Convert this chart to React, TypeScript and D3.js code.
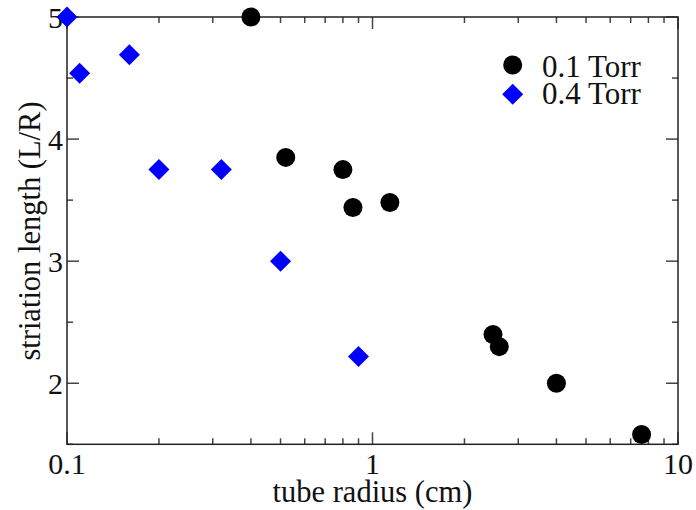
import React from "react";
import * as d3 from "d3";

const torr01X = [0.4, 0.52, 0.8, 0.863, 1.14, 2.48, 2.6, 4.0, 7.6];
const torr01Y = [5.0, 3.85, 3.75, 3.44, 3.48, 2.4, 2.3, 2.0, 1.58];
const torr04X = [0.1, 0.11, 0.16, 0.2, 0.32, 0.5, 0.9];
const torr04Y = [5.0, 4.54, 4.69, 3.75, 3.75, 3.0, 2.22];
const xTickLabels = [0.1, 1, 10];
const yTickLabels = [2, 3, 4, 5];
const legendLabels = ["0.1 Torr", "0.4 Torr"];

const W = 696, H = 510;
const L = 67, R = 678, T = 17, B = 444.3;
const FONT = "'Liberation Serif', 'Times New Roman', serif";

export default function App() {
  const x = d3.scaleLog().domain([0.1, 10]).range([L, R]);
  const y = d3.scaleLinear().domain([1.5, 5]).range([B, T]);

  const xMinor: number[] = [];
  [0.1, 1].forEach((d) => {
    for (let k = 2; k <= 9; k++) xMinor.push(d * k);
  });
  const yMinor = d3.range(1.5, 5.01, 0.5).filter((v) => Math.abs(v - Math.round(v)) > 0.01);
  const tickColor = "#444";
  const majLen = 12, minLen = 6;
  const dia = (cx: number, cy: number, r: number) =>
    `M${cx},${cy - r}L${cx + r},${cy}L${cx},${cy + r}L${cx - r},${cy}Z`;

  return (
    <svg width={W} height={H} style={{ position: "absolute", left: 0, top: 0, background: "#fff" }}>
      <rect x={0} y={0} width={W} height={H} fill="#fff" />
      {xTickLabels.map((v) => (
        <g key={"xm" + v}>
          <line x1={x(v)} x2={x(v)} y1={B} y2={B - majLen} stroke={tickColor} strokeWidth={1.5} />
          <line x1={x(v)} x2={x(v)} y1={T} y2={T + majLen} stroke={tickColor} strokeWidth={1.5} />
        </g>
      ))}
      {xMinor.map((v) => (
        <g key={"xn" + v}>
          <line x1={x(v)} x2={x(v)} y1={B} y2={B - minLen} stroke={tickColor} strokeWidth={1.5} />
          <line x1={x(v)} x2={x(v)} y1={T} y2={T + minLen} stroke={tickColor} strokeWidth={1.5} />
        </g>
      ))}
      {yTickLabels.map((v) => (
        <g key={"ym" + v}>
          <line x1={L} x2={L + majLen} y1={y(v)} y2={y(v)} stroke={tickColor} strokeWidth={1.5} />
          <line x1={R} x2={R - majLen} y1={y(v)} y2={y(v)} stroke={tickColor} strokeWidth={1.5} />
        </g>
      ))}
      {yMinor.map((v) => (
        <g key={"yn" + v}>
          <line x1={L} x2={L + minLen} y1={y(v)} y2={y(v)} stroke={tickColor} strokeWidth={1.5} />
          <line x1={R} x2={R - minLen} y1={y(v)} y2={y(v)} stroke={tickColor} strokeWidth={1.5} />
        </g>
      ))}
      <rect x={L} y={T} width={R - L} height={B - T} fill="none" stroke="#222" strokeWidth={1.5} />
      {xTickLabels.map((v) => (
        <text key={"xl" + v} x={x(v)} y={473.5} textAnchor="middle" fontFamily={FONT} fontSize={30} fill="#111">
          {String(v)}
        </text>
      ))}
      {yTickLabels.map((v) => (
        <text key={"yl" + v} x={63} y={y(v) + 10.5} textAnchor="end" fontFamily={FONT} fontSize={30} fill="#111">
          {String(v)}
        </text>
      ))}
      <text x={(L + R) / 2} y={501.5} textAnchor="middle" fontFamily={FONT} fontSize={30.5} fill="#111">
        tube radius (cm)
      </text>
      <text
        transform={`translate(40,${(100 + 362) / 2}) rotate(-90)`}
        textAnchor="middle"
        fontFamily={FONT}
        fontSize={30.5}
        fill="#111"
      >
        striation length (L/R)
      </text>
      {torr04X.map((v, i) => (
        <path key={"d" + i} d={dia(x(v), y(torr04Y[i]), 10.5)} fill="#0000ff" />
      ))}
      {torr01X.map((v, i) => (
        <circle key={"c" + i} cx={x(v)} cy={y(torr01Y[i])} r={9.5} fill="#000" />
      ))}
      <circle cx={512.7} cy={65} r={9.5} fill="#000" />
      <path d={dia(512.7, 94.3, 10.5)} fill="#0000ff" />
      <text x={542} y={76.5} fontFamily={FONT} fontSize={31} fill="#111">
        {legendLabels[0]}
      </text>
      <text x={542} y={104} fontFamily={FONT} fontSize={31} fill="#111">
        {legendLabels[1]}
      </text>
    </svg>
  );
}
